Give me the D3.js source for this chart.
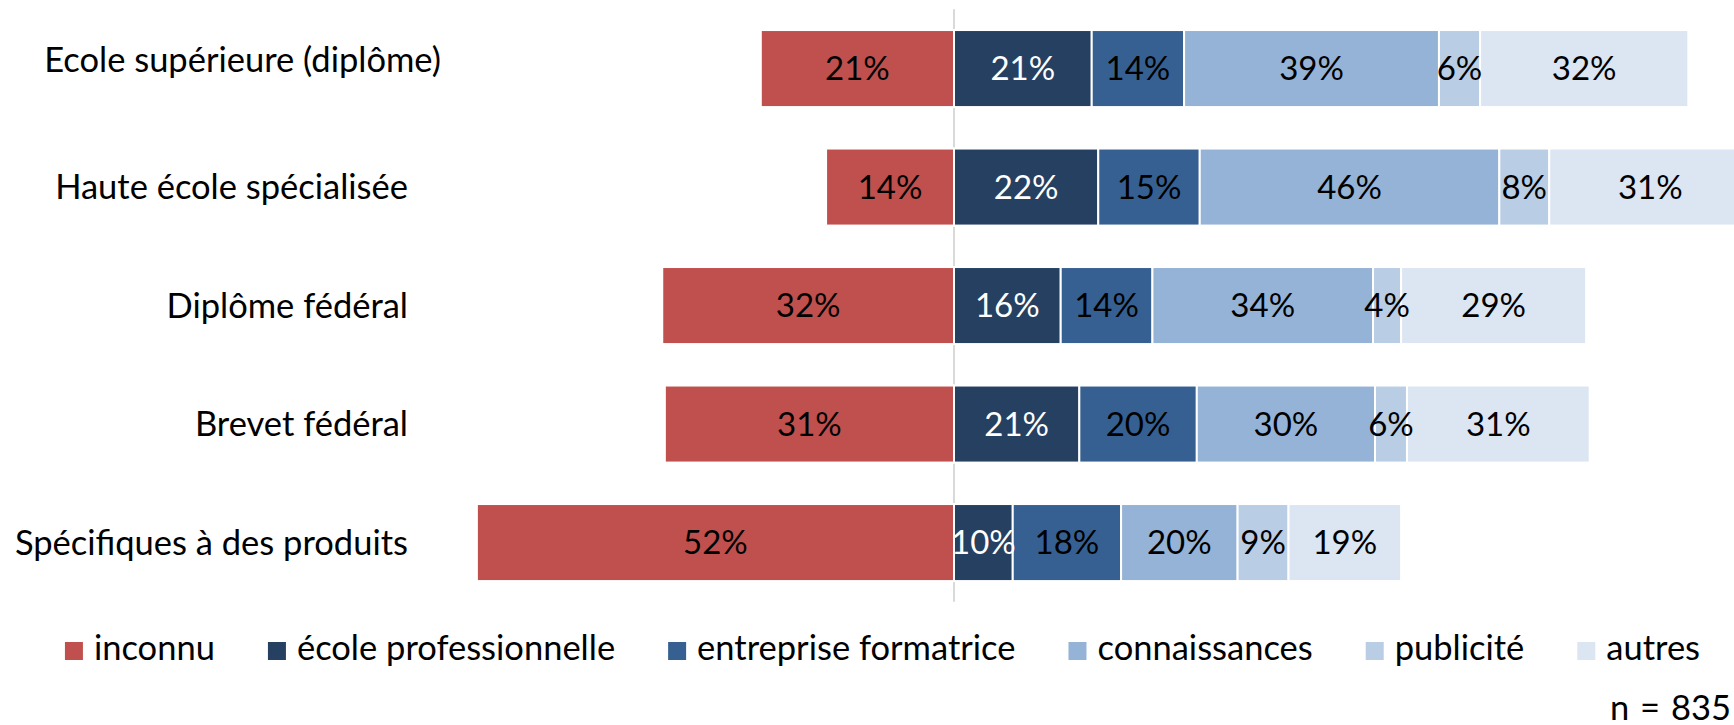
<!DOCTYPE html>
<html>
<head>
<meta charset="utf-8">
<script src="https://cdn.jsdelivr.net/npm/d3@7"></script>
<style>
  html, body { margin: 0; padding: 0; background: #fff; }
  svg { display: block; }
  text { font-family: Lato, "Open Sans", sans-serif; }
</style>
</head>
<body>
<svg id="chart" width="1734" height="725"></svg>
<script>
// ---- data ----
const categories = ["Ecole supérieure (diplôme)", "Haute école spécialisée", "Diplôme fédéral", "Brevet fédéral", "Spécifiques à des produits"];
const seriesNames = ["inconnu", "école professionnelle", "entreprise formatrice", "connaissances", "publicité", "autres"];
const seriesColors = ["#C0504D", "#254061", "#376092", "#95B3D7", "#B9CDE5", "#DCE6F2"];
const labelColors = ["#000", "#fff", "#000", "#000", "#000", "#000"];

// plotted bar lengths (axis units)
const inconnu       = [29.6, 19.6, 44.7, 44.3, 73.1];   // drawn to the left of zero
const ecolePro      = [21.1, 22.1, 16.35, 19.2, 9.0];
const entreprise    = [14.15, 15.55, 14.05, 18.0, 16.6];
const connaissances = [39.05, 45.9, 33.8, 27.3, 17.85];
const publicite     = [6.3, 7.65, 4.3, 4.9, 7.8];
const autres        = [31.9, 30.95, 28.35, 28.0, 17.25];

// printed percentages
const labInconnu       = [21, 14, 32, 31, 52];
const labEcolePro      = [21, 22, 16, 21, 10];
const labEntreprise    = [14, 15, 14, 20, 18];
const labConnaissances = [39, 46, 34, 30, 20];
const labPublicite     = [6, 8, 4, 6, 9];
const labAutres        = [32, 31, 29, 31, 19];

const nText = "n = 835";

// ---- layout ----
const svg = d3.select("#chart");
const FS = 34.5;     // category + legend
const FSV = 33;      // value labels

const x = d3.scaleLinear().domain([0, 100]).range([954, 954 + 652.7]);
const y = d3.scaleBand().domain(categories).range([9.3, 601.8]).paddingInner(0.35).paddingOuter(0.175);

const posSeries = [ecolePro, entreprise, connaissances, publicite, autres];
const posLabels = [labEcolePro, labEntreprise, labConnaissances, labPublicite, labAutres];

// zero line
svg.append("line")
  .attr("x1", x(0)).attr("x2", x(0))
  .attr("y1", y.range()[0]).attr("y2", y.range()[1])
  .attr("stroke", "#D9D9D9").attr("stroke-width", 2);

// build segments
const segs = [];
categories.forEach((c, i) => {
  segs.push({cat: c, s: 0, x0: -inconnu[i], x1: 0, lab: labInconnu[i]});
  let acc = 0;
  posSeries.forEach((arr, k) => {
    segs.push({cat: c, s: k + 1, x0: acc, x1: acc + arr[i], lab: posLabels[k][i]});
    acc += arr[i];
  });
});

svg.append("g").selectAll("rect").data(segs).join("rect")
  .attr("x", d => x(d.x0))
  .attr("y", d => y(d.cat))
  .attr("width", d => x(d.x1) - x(d.x0))
  .attr("height", y.bandwidth())
  .attr("fill", d => seriesColors[d.s])
  .attr("stroke", "#fff").attr("stroke-width", 2);

// value labels
svg.append("g").selectAll("text").data(segs).join("text")
  .attr("x", d => (x(d.x0) + x(d.x1)) / 2)
  .attr("y", d => y(d.cat) + y.bandwidth() / 2)
  .attr("dy", "0.36em")
  .attr("text-anchor", "middle")
  .attr("font-size", FSV)
  .attr("fill", d => labelColors[d.s])
  .text(d => d.lab + "%");

// category labels
svg.append("g").selectAll("text").data(categories).join("text")
  .attr("x", (d, i) => i === 0 ? 441 : 408)
  .attr("y", (d, i) => y(d) + y.bandwidth() / 2 + (i === 0 ? -9 : 0))
  .attr("dy", "0.36em")
  .attr("text-anchor", "end")
  .attr("font-size", FS)
  .attr("fill", "#000")
  .text(d => d);

// legend
const lg = svg.append("g");
const sq = 18, gapIn = 11, gapOut = 53, baseY = 660;
const items = seriesNames.map((n, i) => {
  const g = lg.append("g");
  g.append("rect").attr("y", baseY - sq).attr("width", sq).attr("height", sq).attr("fill", seriesColors[i]);
  const t = g.append("text").attr("x", sq + gapIn).attr("y", baseY).attr("font-size", FS).attr("fill", "#000").text(n);
  return {g, w: sq + gapIn + t.node().getComputedTextLength()};
});
const totalW = d3.sum(items, d => d.w) + gapOut * (items.length - 1);
let cx = 882.5 - totalW / 2;
items.forEach(it => { it.g.attr("transform", `translate(${cx},0)`); cx += it.w + gapOut; });

// n
svg.append("text").attr("x", 1731).attr("y", 720).attr("text-anchor", "end")
  .attr("font-size", FS).attr("word-spacing", 2).attr("fill", "#000").text(nText);
</script>
</body>
</html>
